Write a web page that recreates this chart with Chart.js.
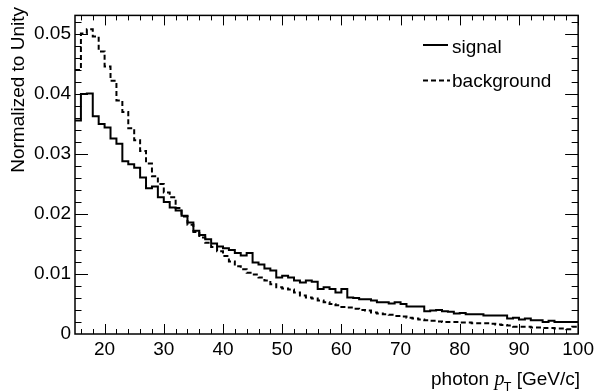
<!DOCTYPE html>
<html>
<head>
<meta charset="utf-8">
<script src="https://cdn.jsdelivr.net/npm/chart.js@4/dist/chart.umd.min.js"></script>
<style>
  html, body { margin:0; padding:0; background:#fff; }
  #wrap { width:598px; height:392px; position:relative; }
</style>
</head>
<body>
<div id="wrap"><canvas id="c" width="598" height="392"></canvas></div>
<script>
// ---- data ----
const binLowEdges = [15,16,17,18,19,20,21,22,23,24,25,26,27,28,29,30,31,32,33,34,35,36,37,38,39,40,41,42,43,44,45,46,47,48,49,50,51,52,53,54,55,56,57,58,59,60,61,62,63,64,65,66,67,68,69,70,71,72,73,74,75,76,77,78,79,80,81,82,83,84,85,86,87,88,89,90,91,92,93,94,95,96,97,98,99];
const binUpperEdge = 100;
const signalValues = [
  0.0356,0.0400,0.0401,0.0363,0.0350,
  0.0344,0.0326,0.0317,0.0288,0.0283,
  0.0277,0.0261,0.0243,0.0246,0.0228,
  0.0220,0.0211,0.0206,0.0197,0.0186,
  0.0172,0.0165,0.0158,0.0151,0.0146,
  0.0143,0.0140,0.0135,0.0131,0.0135,
  0.0119,0.0116,0.0109,0.0106,0.0094,
  0.0097,0.0094,0.0089,0.0086,0.0089,
  0.0087,0.0075,0.0078,0.0075,0.0069,
  0.0075,0.0061,0.0060,0.0058,0.0058,
  0.0056,0.0053,0.0053,0.0051,0.0053,
  0.0050,0.0046,0.0046,0.0046,0.0038,
  0.0039,0.0040,0.0038,0.0037,0.0034,
  0.0035,0.0033,0.0033,0.0033,0.0031,
  0.0031,0.0031,0.0031,0.0026,0.0027,
  0.0024,0.0026,0.0023,0.0023,0.0020,
  0.0022,0.0020,0.0020,0.0020,0.0020];
const backgroundValues = [
  0.0440,0.0501,0.0508,0.0496,0.0471,
  0.0446,0.0422,0.0389,0.0370,0.0343,
  0.0323,0.0305,0.0284,0.0263,0.0250,
  0.0236,0.0228,0.0210,0.0196,0.0182,
  0.0170,0.0161,0.0152,0.0145,0.0138,
  0.0130,0.0121,0.0113,0.0108,0.0102,
  0.0099,0.0094,0.0089,0.0083,0.0078,
  0.0076,0.0074,0.0069,0.0064,0.0061,
  0.0059,0.0056,0.0053,0.0050,0.0048,
  0.0045,0.0044,0.0042,0.0040,0.0039,
  0.0036,0.0034,0.0033,0.0032,0.0030,
  0.0029,0.0027,0.0026,0.0024,0.0023,
  0.0022,0.0021,0.0020,0.0020,0.0020,
  0.0019,0.0019,0.0018,0.0018,0.0018,
  0.0017,0.0016,0.0015,0.0014,0.0012,
  0.0012,0.0012,0.0011,0.0011,0.0010,
  0.0010,0.0009,0.0009,0.0008,0.0012];
const xTickLabels = [20,30,40,50,60,70,80,90,100];
const yTickLabels = [0,0.01,0.02,0.03,0.04,0.05];
const seriesNames = ['signal','background'];
const xTitle = {pre:'photon ', italic:'p', sub:'T', post:' [GeV/c]'};
const yTitle = 'Normalized to Unity';

// ---- build ----
function toSteps(vals){
  const pts = binLowEdges.map((x,i)=>({x:x, y:vals[i]}));
  pts.push({x:binUpperEdge, y:vals[vals.length-1]});
  return pts;
}
const FONT = '"Liberation Sans", Arial, Helvetica, sans-serif';

const decor = {
  id:'decor',
  afterDraw(chart){
    const {ctx, chartArea:a, scales:{x,y}} = chart;
    ctx.save();
    ctx.strokeStyle='#000';
    // ticks (inward, all four sides)
    ctx.lineWidth=1;
    ctx.beginPath();
    for(let v=16; v<=100; v+=2){
      const px = Math.round(x.getPixelForValue(v))+0.5;
      const L = (v%10===0)?10:5;
      ctx.moveTo(px,a.bottom); ctx.lineTo(px,a.bottom-L);
      ctx.moveTo(px,a.top); ctx.lineTo(px,a.top+L);
    }
    for(let k=1; k<=26; k++){
      const py = Math.round(y.getPixelForValue(k*0.002))+0.5;
      const L = (k%5===0)?13:6.5;
      ctx.moveTo(a.left,py); ctx.lineTo(a.left+L,py);
      ctx.moveTo(a.right,py); ctx.lineTo(a.right-L,py);
    }
    ctx.stroke();
    // frame
    ctx.lineWidth=1.5;
    ctx.strokeRect(a.left, a.top, a.right-a.left, a.bottom-a.top);

    // legend
    const ds = chart.data.datasets;
    const rows = [{y:45, ty:53}, {y:80.5, ty:87}];
    ds.forEach((d,i)=>{
      ctx.save();
      ctx.lineWidth = 2;
      ctx.setLineDash(d.borderDash||[]);
      ctx.beginPath();
      ctx.moveTo(423, rows[i].y); ctx.lineTo(i===0?448:450, rows[i].y);
      ctx.stroke();
      ctx.restore();
      ctx.fillStyle='#000';
      ctx.font = '19px '+FONT;
      ctx.textAlign='left'; ctx.textBaseline='alphabetic';
      ctx.fillText(d.label, 452, rows[i].ty);
    });

    // y title
    ctx.save();
    ctx.translate(23.5, 7);
    ctx.rotate(-Math.PI/2);
    ctx.font='19px '+FONT;
    ctx.fillStyle='#000';
    ctx.textAlign='right'; ctx.textBaseline='alphabetic';
    ctx.fillText(yTitle, 0, 0);
    ctx.restore();

    // x title
    const f1 = '19px '+FONT, fi = 'italic 20px "Liberation Serif", "Times New Roman", serif', fs = '13px '+FONT;
    ctx.font=f1; const w1 = ctx.measureText(xTitle.pre).width; const w4 = ctx.measureText(xTitle.post).width;
    ctx.font=fi; const w2 = ctx.measureText(xTitle.italic).width;
    ctx.font=fs; const w3 = ctx.measureText(xTitle.sub).width;
    let cx = 580 - (w1+w2+w3+w4-1);
    const base = 385;
    ctx.fillStyle='#000'; ctx.textAlign='left'; ctx.textBaseline='alphabetic';
    ctx.font=f1; ctx.fillText(xTitle.pre, cx, base); cx+=w1;
    ctx.font=fi; ctx.fillText(xTitle.italic, cx, base); cx+=w2-1;
    ctx.font=fs; ctx.fillText(xTitle.sub, cx, base+6); cx+=w3;
    ctx.font=f1; ctx.fillText(xTitle.post, cx, base);
    ctx.restore();
  }
};

new Chart(document.getElementById('c'), {
  type:'line',
  data:{
    datasets:[
      {label:seriesNames[0], data:toSteps(signalValues), borderColor:'#000', borderWidth:2, stepped:'before', pointRadius:0, fill:false},
      {label:seriesNames[1], data:toSteps(backgroundValues), borderColor:'#000', borderWidth:2, borderDash:[5,3], stepped:'before', pointRadius:0, fill:false}
    ]
  },
  options:{
    responsive:false,
    animation:false,
    devicePixelRatio:1,
    layout:{padding:{top:10, right:19, left:0, bottom:0}},
    plugins:{legend:{display:false}, tooltip:{enabled:false}},
    scales:{
      x:{
        type:'linear', min:15, max:100,
        grid:{display:false, drawTicks:false},
        border:{display:false},
        afterBuildTicks(s){ s.ticks = xTickLabels.map(v=>({value:v})); },
        afterFit(s){ s.height = 58; },
        ticks:{color:'#000', font:{family:FONT, size:19}, padding:4, maxRotation:0, autoSkip:false,
          callback:(v)=>String(v)}
      },
      y:{
        type:'linear', min:0, max:0.0531,
        grid:{display:false, drawTicks:false},
        border:{display:false},
        afterBuildTicks(s){ s.ticks = yTickLabels.map(v=>({value:v})); },
        afterFit(s){ s.width = 75; },
        ticks:{color:'#000', font:{family:FONT, size:19}, padding:4, autoSkip:false,
          callback:(v)=> v===0 ? '0' : v.toFixed(2)}
      }
    }
  },
  plugins:[decor]
});
</script>
</body>
</html>
